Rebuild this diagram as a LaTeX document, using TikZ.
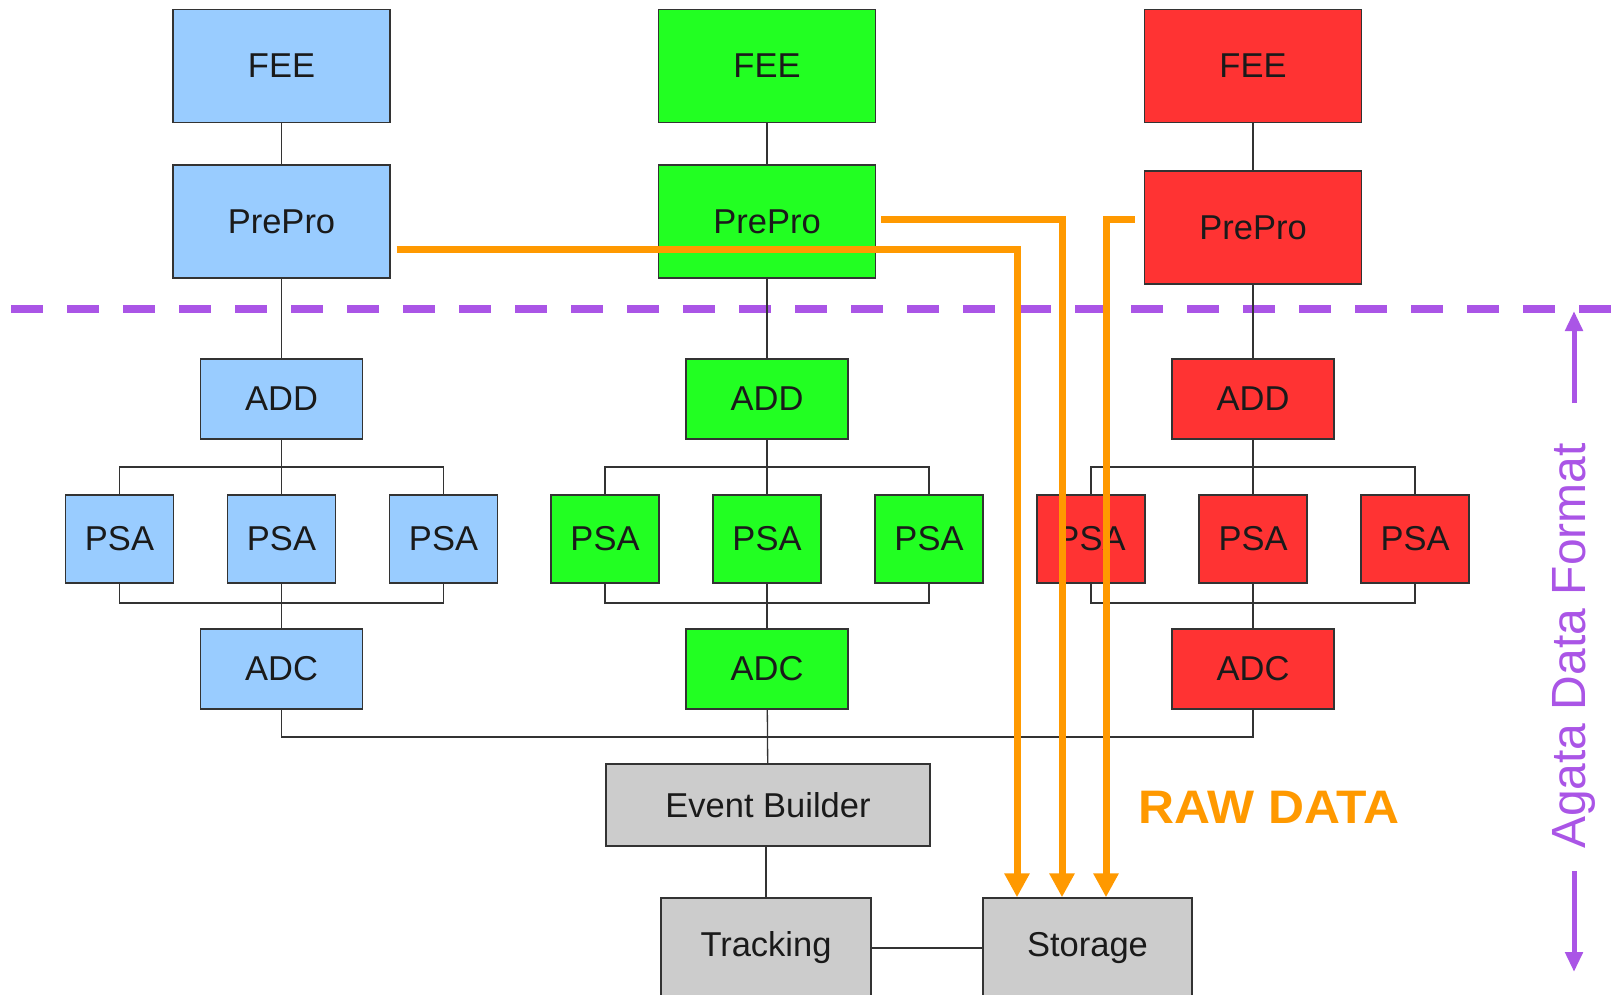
\documentclass[tikz,border=0pt]{standalone}
\usepackage{fontspec}
\setmainfont{Liberation Sans}
\usetikzlibrary{arrows.meta}
\definecolor{cblue}{HTML}{99CCFF}
\definecolor{cgreen}{HTML}{22FF22}
\definecolor{cred}{HTML}{FF3333}
\definecolor{cgray}{HTML}{CCCCCC}
\definecolor{corange}{HTML}{FF9900}
\definecolor{cpurple}{HTML}{AA55E6}
\definecolor{ctext}{HTML}{1A1A1A}
\definecolor{cedge}{HTML}{333333}
\tikzset{
  box/.style={draw=cedge, line width=1.4pt, inner sep=0pt, text=ctext,
    font=\fontsize{34.5}{41}\selectfont},
  bigbox/.style={box, minimum width=217pt, minimum height=113pt},
  midbox/.style={box, minimum width=162pt, minimum height=80pt},
  psabox/.style={box, minimum width=108pt, minimum height=88pt},
  link/.style={draw=cedge, line width=1.3pt},
  rawline/.style={draw=corange, line width=7pt,
    -{Triangle[width=24pt,length=24pt]}},
  fmtarrow/.style={draw=cpurple, line width=5pt,
    -{Triangle[width=17pt,length=20pt]}},
}
\begin{document}
\begin{tikzpicture}[x=1pt,y=-1pt]
\useasboundingbox (0,0) rectangle (1613,995);
% dashed boundary
\coordinate (dl) at (11,309);
\coordinate (dr) at (1613,309);
\draw[cpurple, line width=8pt, dash pattern=on 32pt off 24pt] (dl) -- (dr);
% helper levels
\coordinate (top) at (0,467);
\coordinate (bot) at (0,603);
\coordinate (bus) at (0,737);
% columns
\foreach \p/\cx/\col/\ppy in {b/281.5/cblue/221.5, g/767/cgreen/221.5, r/1253/cred/227.5}{
  \node[bigbox, fill=\col] (\p fee) at (\cx,66) {FEE};
  \node[bigbox, fill=\col] (\p pp) at (\cx,\ppy) {PrePro};
  \node[midbox, fill=\col] (\p add) at (\cx,399) {ADD};
  \node[psabox, fill=\col] (\p p1) at (\cx-162,539) {PSA};
  \node[psabox, fill=\col] (\p p2) at (\cx,539) {PSA};
  \node[psabox, fill=\col] (\p p3) at (\cx+162,539) {PSA};
  \node[midbox, fill=\col] (\p adc) at (\cx,669) {ADC};
  \draw[link] (\p fee) -- (\p pp);
  \draw[link] (\p pp) -- (\p add);
  \draw[link] (\p add) -- (\p p2);
  \draw[link] (\p p1.north) -- (\p p1.north |- top) -- (\p p3.north |- top) -- (\p p3.north);
  \draw[link] (\p p1.south) -- (\p p1.south |- bot) -- (\p p3.south |- bot) -- (\p p3.south);
  \draw[link] (\p p2) -- (\p adc);
}
\node[box, fill=cgray, minimum width=324pt, minimum height=82pt] (eb) at (768,805) {Event Builder};
\node[box, fill=cgray, minimum width=210pt, minimum height=100pt] (trk) at (766,948) {Tracking};
\node[box, fill=cgray, minimum width=209pt, minimum height=100pt] (sto) at (1087.5,948) {Storage};
\draw[link] (badc.south) -- (badc.south |- bus) -- (radc.south |- bus) -- (radc.south);
\draw[link] (gadc) -- (eb);
\draw[link] (trk.north |- eb.south) -- (trk.north);
\draw[link] (trk) -- (sto);
% raw data paths
\draw[rawline] ([xshift=6pt,yshift=-27.5pt]bpp.east) -| ([xshift=-70.5pt]sto.north);
\draw[rawline] ([xshift=5pt,yshift=2.5pt]gpp.east) -| ([xshift=-25.5pt]sto.north);
\draw[rawline] ([xshift=-9pt,yshift=8.5pt]rpp.west) -| ([xshift=18.5pt]sto.north);
\node[anchor=base west, text=corange, font=\bfseries\fontsize{47}{56}\selectfont, inner sep=0pt] (raw) at (1138,823) {\scalebox{1.06}[1]{RAW DATA}};
% format annotation
\node[rotate=90, text=cpurple, font=\fontsize{48}{58}\selectfont, inner sep=0pt] (fmt) at (1574,646) {Agata Data Format};
\coordinate (ua) at (1574,403);
\coordinate (ut) at (1574,311);
\coordinate (da) at (1574,871);
\coordinate (dt) at (1574,972);
\draw[fmtarrow] (ua) -- (ut);
\draw[fmtarrow] (da) -- (dt);
\end{tikzpicture}
\end{document}
